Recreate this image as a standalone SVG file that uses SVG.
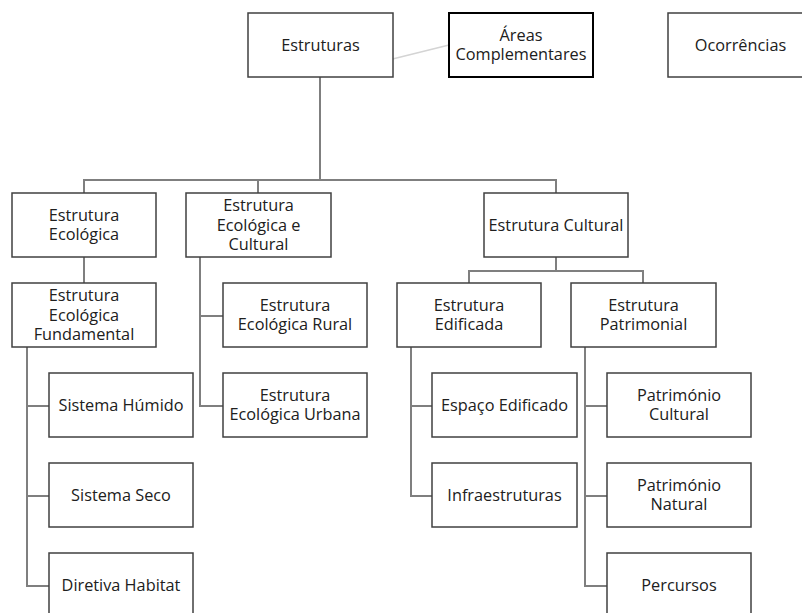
<svg xmlns="http://www.w3.org/2000/svg" width="802" height="613" viewBox="0 0 802 613">
<style>
.b{fill:#fff;stroke:#404040;stroke-width:1.5}
.bk{fill:#fff;stroke:#000;stroke-width:2}
.t{font-family:"Open Sans","Noto Sans",sans-serif;font-size:16.3px;fill:#202020;text-anchor:middle}
.c{fill:none;stroke:#7f7f7f;stroke-width:2}
</style>
<rect width="802" height="613" fill="#fff"/>
<g id="connectors">
<line x1="320" y1="77" x2="449" y2="45" stroke="#d4d4d4" stroke-width="1.5"/>
<path class="c" d="M320 77V180M84 193V180H556V193M258 180V193M84 257V283M556 257V271M469 283V271H643V283M27 347V586H49M27 406H49M27 496H49M200 257V406H223M200 316H223M411 347V496H432M411 406H432M585 347V586H607M585 406H607M585 496H607"/>
</g>
<g id="estruturas"><rect class="b" x="248" y="13" width="145" height="64"/><text class="t" x="320.5" y="51">Estruturas</text></g>
<g id="areas"><rect class="bk" x="449" y="13" width="144" height="64"/><text class="t" x="521" y="40.5">Áreas</text><text class="t" x="521" y="60">Complementares</text></g>
<g id="ocorrencias"><rect class="b" x="668" y="13" width="145" height="64"/><text class="t" x="740.5" y="51">Ocorrências</text></g>
<g id="eco"><rect class="b" x="12" y="193" width="144" height="64"/><text class="t" x="84" y="220.5">Estrutura</text><text class="t" x="84" y="240">Ecológica</text></g>
<g id="ecocult"><rect class="b" x="186" y="193" width="145" height="64"/><text class="t" x="258.5" y="211">Estrutura</text><text class="t" x="258.5" y="230.5">Ecológica e</text><text class="t" x="258.5" y="250">Cultural</text></g>
<g id="cult"><rect class="b" x="484" y="193" width="144" height="64"/><text class="t" x="556" y="231">Estrutura Cultural</text></g>
<g id="fund"><rect class="b" x="12" y="283" width="144" height="64"/><text class="t" x="84" y="301">Estrutura</text><text class="t" x="84" y="320.5">Ecológica</text><text class="t" x="84" y="340">Fundamental</text></g>
<g id="rural"><rect class="b" x="223" y="283" width="144" height="64"/><text class="t" x="295" y="310.5">Estrutura</text><text class="t" x="295" y="330">Ecológica Rural</text></g>
<g id="edif"><rect class="b" x="397" y="283" width="144" height="64"/><text class="t" x="469" y="310.5">Estrutura</text><text class="t" x="469" y="330">Edificada</text></g>
<g id="patr"><rect class="b" x="571" y="283" width="145" height="64"/><text class="t" x="643.5" y="310.5">Estrutura</text><text class="t" x="643.5" y="330">Patrimonial</text></g>
<g id="humido"><rect class="b" x="49" y="373" width="144" height="64"/><text class="t" x="121" y="411">Sistema Húmido</text></g>
<g id="urbana"><rect class="b" x="223" y="373" width="144" height="64"/><text class="t" x="295" y="400.5">Estrutura</text><text class="t" x="295" y="420">Ecológica Urbana</text></g>
<g id="espaco"><rect class="b" x="432" y="373" width="145" height="64"/><text class="t" x="504.5" y="411">Espaço Edificado</text></g>
<g id="patcult"><rect class="b" x="607" y="373" width="144" height="64"/><text class="t" x="679" y="400.5">Património</text><text class="t" x="679" y="420">Cultural</text></g>
<g id="seco"><rect class="b" x="49" y="463" width="144" height="64"/><text class="t" x="121" y="501">Sistema Seco</text></g>
<g id="infra"><rect class="b" x="432" y="463" width="145" height="64"/><text class="t" x="504.5" y="501">Infraestruturas</text></g>
<g id="patnat"><rect class="b" x="607" y="463" width="144" height="64"/><text class="t" x="679" y="490.5">Património</text><text class="t" x="679" y="510">Natural</text></g>
<g id="diretiva"><rect class="b" x="49" y="553" width="144" height="64"/><text class="t" x="121" y="591">Diretiva Habitat</text></g>
<g id="percursos"><rect class="b" x="607" y="553" width="144" height="64"/><text class="t" x="679" y="591">Percursos</text></g>
</svg>
